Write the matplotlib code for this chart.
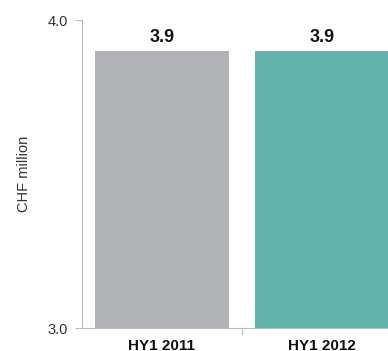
import matplotlib
matplotlib.use("Agg")
import matplotlib.pyplot as plt
import numpy as np

plt.rcParams['font.family'] = ['Liberation Sans', 'DejaVu Sans']

# データ
categories = ['HY1 2011', 'HY1 2012']
values = [3.9, 3.9]
colors = ['#B1B3B6', '#62B3AC']

fig = plt.figure(figsize=(3.88, 3.51), dpi=100)
ax = fig.add_axes([82 / 388, 23 / 351, 320 / 388, 308 / 351])

x = np.arange(len(categories))
ax.bar(x, values, width=0.84, color=colors, zorder=2)

for xi, v in zip(x, values):
    ax.text(xi, v + 0.014, f'{v:.1f}', ha='center', va='bottom',
            fontsize=13, fontweight='bold', color='#111111')

ax.set_ylim(3.0, 4.0)
ax.set_yticks([3.0, 4.0])
ax.set_yticklabels(['3.0', '4.0'], fontsize=10.5, color='#333333')
ax.set_xlim(-0.5, 1.5)
ax.set_xticks([0.5])
ax.set_xticklabels([''])
ax.set_xticks(x, minor=True)
ax.set_xticklabels(categories, minor=True, fontsize=11, fontweight='bold', color='#111111')
ax.tick_params(axis='x', which='minor', length=0, pad=8)
ax.tick_params(axis='x', which='major', length=5, color='#BBBBBB')
ax.tick_params(axis='y', length=5, color='#BBBBBB', pad=5)

ax.set_ylabel('CHF million', fontsize=10.5, color='#333333', labelpad=12)

for s in ['top', 'right']:
    ax.spines[s].set_visible(False)
for s in ['left', 'bottom']:
    ax.spines[s].set_color('#BBBBBB')
    ax.spines[s].set_linewidth(0.8)

fig.savefig('out.png', dpi=100)
